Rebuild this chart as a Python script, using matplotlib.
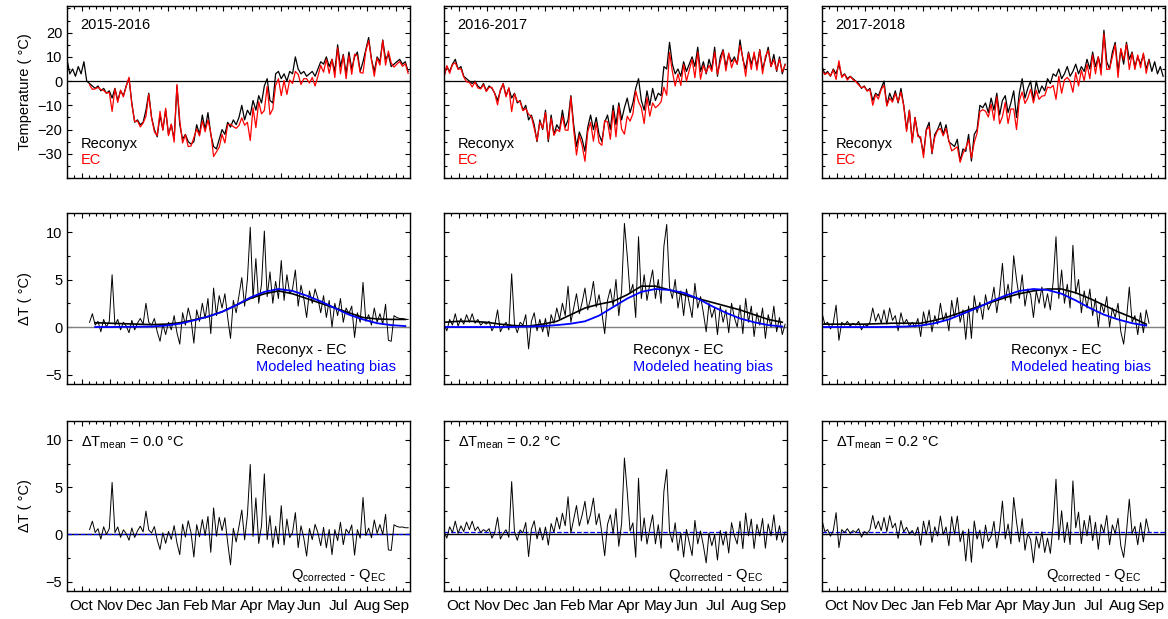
import numpy as np
import matplotlib
matplotlib.use('Agg')
import matplotlib.pyplot as plt
from matplotlib.ticker import MultipleLocator, FixedLocator

plt.rcParams['font.family'] = ['Liberation Sans', 'DejaVu Sans']
plt.rcParams['mathtext.fontset'] = 'custom'
plt.rcParams['mathtext.rm'] = 'Liberation Sans'
plt.rcParams['font.size'] = 10

nan = np.nan

years = ['2015-2016', '2016-2017', '2017-2018']
dt_means = [0.0, 0.2, 0.2]
months = ['Oct', 'Nov', 'Dec', 'Jan', 'Feb', 'Mar', 'Apr', 'May', 'Jun', 'Jul', 'Aug', 'Sep']
month_days = [31, 30, 31, 31, 28, 31, 30, 31, 30, 31, 31, 30]
temp_ticks = [-30, -20, -10, 0, 10, 20]
dt_ticks = [-5, 0, 5, 10]

# daily series read every 3 days, smooth curves every 15 days (days since Oct 1)
step = 3
model_step = 15

# Reconyx air temperature (C)
reconyx_1516 = [9, 3, 5, 2, 6, 3, 8, 0, -1, -2,
	-3, -2, -4, -3, -5, -4, -7, -3, -8, -4,
	-6, -2, 1, -9, -17, -16, -18, -17, -12, -5,
	-15, -20, -23, -14, -20, -12, -22, -18, -24, -2,
	-18, -24, -22, -25, -26, -25, -18, -22, -14, -20,
	-13, -22, -27, -28, -24, -20, -22, -17, -19, -16,
	-18, -15, -10, -16, -12, -14, -8, -12, -6, -9,
	-2, 1, -8, -9, 3, 4, 1, 3, 0, 4,
	3, 10, 5, 3, 4, 2, 3, 4, 2, 5,
	8, 7, 10, 6, 9, 4, 15, 6, 11, 3,
	12, 5, 10, 12, 4, 8, 13, 18, 9, 4,
	10, 8, 17, 9, 11, 6, 7, 8, 9, 7,
	8, 4]
reconyx_1617 = [2, 6, 4, 7, 9, 5, 6, 2, 1, 0,
	-1, 0, -2, -3, -1, -4, -2, -3, -5, -8,
	-4, -1, -6, -3, -7, -5, -9, -8, -12, -10,
	-16, -14, -18, -25, -16, -20, -12, -25, -14, -22,
	-18, -20, -12, -19, -16, -6, -18, -27, -21, -24,
	-29, -19, -14, -20, -15, -22, -25, -17, -14, -20,
	-10, -18, -9, -16, -11, -7, -13, -9, -3, 1,
	-8, -12, -4, -10, -3, -8, -5, -6, 6, 5,
	16, 7, 3, 5, 2, 8, 4, 7, 10, 6,
	14, 4, 8, 3, 9, 5, 14, 2, 10, 13,
	6, 11, 8, 10, 7, 17, 9, 5, 12, 7,
	11, 6, 13, 5, 9, 14, 6, 11, 4, 10,
	3, 7]
reconyx_1718 = [6, 3, 4, 2, 5, 3, 7, 2, 3, 1,
	2, 1, 0, -1, -3, -2, -4, -3, -8, -5,
	-6, -3, 0, -10, -5, -8, -4, -9, -3, -10,
	-20, -12, -25, -15, -22, -24, -30, -20, -17, -30,
	-22, -20, -17, -22, -18, -25, -26, -27, -24, -33,
	-28, -29, -22, -33, -22, -20, -10, -11, -9, -13,
	-7, -12, -5, -14, -8, -6, -13, -9, -4, -15,
	-5, 1, -7, -3, 0, -8, 0, -5, -2, -4,
	1, -1, 3, 2, 5, 1, 3, 6, 2, 4,
	7, 3, 6, 4, 9, 5, 12, 6, 10, 5,
	21, 8, 5, 12, 16, 4, 13, 7, 16, 9,
	12, 6, 10, 7, 11, 5, 9, 4, 8, 3,
	6, 2]

# Reconyx - EC difference (C)
diff_1516 = [nan, nan, nan, nan, nan, nan, nan, nan, 0.5, 1.4,
	0.2, 0.6, -0.5, 0.8, 0.0, 0.6, 5.5, 0.2, 0.8, -0.3,
	0.5, 0.1, -0.6, 0.7, -0.3, 0.4, 0.9, 0.3, 2.5, 0.5,
	0.2, 0.9, -0.5, -1.5, 0.3, -0.8, 0.5, -0.3, 1.2, -0.6,
	-1.8, 1.5, 0.2, 2.0, 0.8, -1.7, 1.8, 0.6, 2.5, 0.9,
	3.0, -0.7, 4.1, 1.2, 3.3, 2.0, 3.5, 1.0, -1.2, 2.8,
	1.5, 3.3, 5.2, 2.2, 5.0, 10.5, 3.0, 7.2, 2.5, 4.5,
	10.1, 3.2, 5.8, 2.5, 4.8, 3.0, 7.0, 2.8, 5.5, 3.5,
	4.0, 6.0, 2.2, 4.4, 3.0, 1.0, 3.8, 2.5, 4.0, 3.0,
	1.5, 3.3, 1.0, 2.8, 0.0, 2.5, 1.2, 3.0, 0.5, 2.0,
	1.4, 2.2, -1.1, 1.5, 0.5, 4.7, 0.6, 1.3, 0.2, 2.0,
	0.5, 1.4, 0.3, 2.4, -1.4, -1.5, 1.2, 1.0, 0.9, 0.9,
	0.8, 0.8]
diff_1617 = [0.3, -0.4, 0.8, 0.2, 1.4, 0.1, 0.9, 0.3, 1.3, 0.5,
	1.4, 0.4, 0.8, 0.2, 0.5, 0.3, 0.6, -0.4, 0.2, 1.8,
	-0.5, 0.1, 0.5, -0.3, 5.6, 0.3, -0.6, 0.5, 0.2, 1.3,
	-2.3, 0.6, 1.5, -0.4, 0.8, -0.5, 0.9, -1.0, 1.3, 0.4,
	2.0, 0.8, 2.5, 1.2, 4.3, 0.5, 2.0, 3.5, 1.4, 2.6,
	4.1, 1.8, 3.0, 4.8, 2.1, 3.4, 1.5, -0.7, 2.8, 4.0,
	2.2, 5.0, 1.2, 3.8, 10.9, 7.5, 3.5, 4.5, 1.0, 9.5,
	3.0, 5.5, 2.8, 4.5, 6.0, 3.0, 5.0, 2.5, 8.5, 10.8,
	4.2, 3.0, 5.0, 2.0, 3.8, 1.2, 4.0, 2.5, 1.0, 4.6,
	2.0, 3.2, 1.5, -0.5, 2.5, 1.0, 2.0, -0.8, 2.2, 0.5,
	1.8, -0.6, 2.5, 1.0, 0.0, 2.3, -0.7, 3.0, 0.5, 2.2,
	-1.0, 1.5, 0.2, 2.0, -1.2, 1.3, 0.0, 2.2, -0.5, 1.0,
	-0.8, 0.3]
diff_1718 = [1.5, 0.3, 0.5, -0.2, 0.4, 2.3, -1.4, 0.5, 0.2, 0.6,
	0.1, 0.4, 0.2, 0.6, -0.3, 0.3, 0.1, 0.5, 2.0, 0.6,
	1.4, 0.4, 1.8, 0.3, 2.0, 0.7, 1.2, -0.4, 1.5, 0.3,
	0.8, 0.1, 0.5, 0.0, 0.9, -1.0, 1.6, 0.2, 1.8, -0.5,
	1.2, 0.3, 2.5, 0.6, 1.5, -0.4, 2.8, 1.0, 3.1, 0.5,
	1.8, -1.3, 2.2, -1.2, 3.3, 1.5, 2.6, 0.8, 3.4, 1.8,
	2.5, 4.2, 1.5, 3.6, 6.7, 2.8, 4.5, 2.5, 7.5, 5.0,
	3.0, 5.5, 2.2, 4.0, 3.4, 1.0, 3.8, 2.5, 4.2, 2.0,
	3.5, 1.8, 4.8, 9.5, 3.0, 6.0, 2.5, 4.5, 2.0, 8.6,
	3.5, 5.0, 1.5, 3.8, 2.0, 4.0, 1.2, 3.0, 0.0, 2.5,
	1.5, 3.2, 0.0, 2.0, 1.0, 2.5, -0.5, -1.8, 0.8, 4.2,
	0.5, 1.2, -0.8, 1.5, -0.6, 1.8, 0.4, nan, nan, nan,
	nan, nan]

# modeled heating bias (C)
model_1516 = [nan, nan, 0.0, 0.0, 0.02, 0.03, 0.05, 0.15, 0.35, 0.7, 1.1, 1.6, 2.3,
	3.1, 3.7, 4.0, 3.8, 3.3, 2.7, 2.0, 1.3, 0.8, 0.4, 0.2, 0.1]
model_1617 = [0.0, 0.0, 0.0, 0.0, 0.0, 0.02, 0.05, 0.1, 0.2, 0.35, 0.6, 1.2, 2.1,
	3.0, 3.7, 4.0, 3.9, 3.6, 3.0, 2.2, 1.5, 0.9, 0.5, 0.2, 0.05]
model_1718 = [0.0, 0.0, 0.0, 0.0, 0.0, 0.02, 0.05, 0.15, 0.4, 0.8, 1.4, 2.0, 2.7,
	3.3, 3.8, 4.0, 3.9, 3.5, 2.8, 2.0, 1.3, 0.8, 0.4, 0.15, nan]

# smoothed Reconyx - EC (C)
smooth_1516 = [nan, nan, 0.45, 0.4, 0.35, 0.3, 0.25, 0.3, 0.45, 0.75, 1.1, 1.6, 2.3,
	3.0, 3.5, 3.8, 3.5, 3.0, 2.5, 2.0, 1.5, 1.0, 0.85, 0.8, 0.8]
smooth_1617 = [0.5, 0.6, 0.6, 0.5, 0.3, 0.15, 0.1, 0.3, 0.6, 1.3, 2.0, 2.4, 2.7,
	3.4, 4.3, 4.3, 3.9, 3.4, 3.0, 2.6, 2.2, 1.8, 1.3, 0.8, 0.5]
smooth_1718 = [0.3, 0.3, 0.3, 0.3, 0.35, 0.4, 0.4, 0.4, 0.7, 1.1, 1.6, 2.1, 2.6,
	3.1, 3.5, 3.8, 4.0, 4.0, 3.6, 3.0, 2.3, 1.6, 1.0, 0.3, nan]

reconyx = [reconyx_1516, reconyx_1617, reconyx_1718]
diffs = [diff_1516, diff_1617, diff_1718]
models = [model_1516, model_1617, model_1718]
smooths = [smooth_1516, smooth_1617, smooth_1718]

month_starts = np.cumsum([0] + month_days)
month_mids = month_starts[:-1] + np.array(month_days) / 2.0
quarter_ticks = np.concatenate([month_starts[:-1] + np.array(month_days) * q for q in (0.0, 0.25, 0.75)])


def style_axis(ax, col, bottom_labels, yticks, yminor):
	ax.set_xlim(0, month_starts[-1])
	ax.xaxis.set_major_locator(FixedLocator(month_mids))
	ax.xaxis.set_minor_locator(FixedLocator(quarter_ticks))
	ax.yaxis.set_major_locator(FixedLocator(yticks))
	ax.yaxis.set_minor_locator(MultipleLocator(yminor))
	ax.tick_params(which='both', direction='in', top=True, right=True, width=0.8)
	ax.tick_params(which='major', length=3.5, labelsize=10.5)
	ax.tick_params(which='minor', length=2.5)
	if bottom_labels:
		ax.set_xticklabels(months)
		ax.tick_params(axis='x', which='major', pad=6, labelsize=11)
	else:
		ax.tick_params(labelbottom=False)
	if col > 0:
		ax.tick_params(labelleft=False)
	for s in ax.spines.values():
		s.set_linewidth(1.0)


def draw_year(fig, col):
	rec = np.array(reconyx[col], float)
	diff = np.array(diffs[col], float)
	model = np.array(models[col], float)
	smooth = np.array(smooths[col], float)
	x = np.arange(len(rec)) * step
	xd = np.arange(len(diff)) * step
	xm = np.arange(len(model)) * model_step
	n = min(len(rec), len(diff))
	ec = rec[:n] - diff[:n]
	ok = ~np.isnan(model)
	model_daily = np.interp(xd, xm[ok], model[ok])
	corrected = diff - model_daily

	left = lefts[col]

	# temperatures
	ax1 = fig.add_axes([left, 0.7124, width, 0.2779])
	ax1.axhline(0, color='k', lw=0.9)
	ax1.plot(x, rec, color='k', lw=0.9)
	ax1.plot(x[:n], ec, color='#ff0000', lw=0.9)
	ax1.set_ylim(-40, 31)
	style_axis(ax1, col, False, temp_ticks, 5)
	ax1.text(0.04, 0.89, years[col], transform=ax1.transAxes, va='center', fontsize=10.5)
	ax1.text(0.04, 0.20, 'Reconyx', transform=ax1.transAxes, va='center', fontsize=10.5)
	ax1.text(0.04, 0.105, 'EC', transform=ax1.transAxes, va='center', fontsize=10.5, color='#ff0000')
	if col == 0:
		ax1.set_ylabel('Temperature ( °C)', fontsize=10.5, labelpad=4)

	# difference and modeled bias
	ax2 = fig.add_axes([left, 0.3796, width, 0.2763])
	ax2.axhline(0, color='#808080', lw=1.0)
	ax2.plot(xd, diff, color='k', lw=0.7)
	ax2.plot(xm, smooth, color='k', lw=1.2)
	ax2.plot(xm, model, color='#0000ff', lw=1.3)
	ax2.set_ylim(-6, 12)
	style_axis(ax2, col, False, dt_ticks, 2.5)
	ax2.text(0.55, 0.20, 'Reconyx - EC', transform=ax2.transAxes, va='center', fontsize=10.5)
	ax2.text(0.55, 0.10, 'Modeled heating bias', transform=ax2.transAxes, va='center',
		fontsize=10.5, color='#0000ff')
	if col == 0:
		ax2.set_ylabel('ΔT ( °C)', fontsize=10.5, labelpad=10)

	# corrected difference
	ax3 = fig.add_axes([left, 0.0452, width, 0.2746])
	ax3.axhline(0, color='k', lw=1.0)
	ax3.axhline(dt_means[col], color='#0000ff', lw=0.9, ls='--')
	ax3.plot(xd, corrected, color='k', lw=0.7)
	ax3.set_ylim(-6, 12)
	style_axis(ax3, col, True, dt_ticks, 2.5)
	ax3.text(0.04, 0.875, r'ΔT$_\mathregular{mean}$ = %.1f °C' % dt_means[col],
		transform=ax3.transAxes, va='center', fontsize=10.5)
	ax3.text(0.93, 0.09, r'Q$_\mathregular{corrected}$ - Q$_\mathregular{EC}$',
		transform=ax3.transAxes, va='center', ha='right', fontsize=10.5)
	if col == 0:
		ax3.set_ylabel('ΔT ( °C)', fontsize=10.5, labelpad=10)


lefts = [67 / 1168.0, 444 / 1168.0, 822 / 1168.0]
width = 343 / 1168.0

fig = plt.figure(figsize=(11.68, 6.19), dpi=100)
for col in range(3):
	draw_year(fig, col)

fig.savefig('out.png', dpi=100)
